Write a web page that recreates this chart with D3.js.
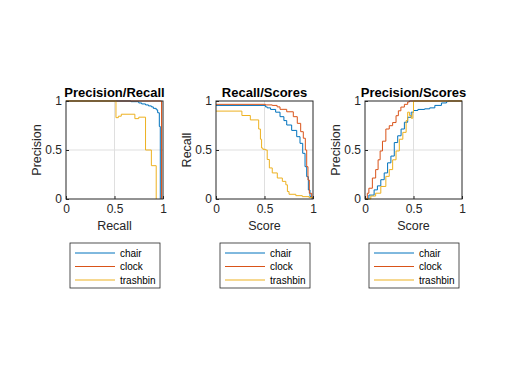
<!DOCTYPE html>
<html lang="en">
<head>
<meta charset="UTF-8">
<title>Precision / Recall</title>
<style>
  body { margin: 0; background: #fff; }
  text { font-family: "Liberation Sans", Arial, sans-serif; fill: #262626; }
</style>
</head>
<body>
<svg id="chart"></svg>
<script src="https://cdn.jsdelivr.net/npm/d3@7/dist/d3.min.js"></script>
<script>
const categories = ['chair', 'clock', 'trashbin'];
const colors = ['#0072BD', '#D95319', '#EDB120'];
const tickValues = [0, 0.5, 1];
const tickLabels = ['0', '0.5', '1'];

// precision / recall
const prChairRecall = [0, 0.67, 0.75, 0.78, 0.82, 0.85, 0.88, 0.9, 0.93, 0.945, 0.962, 0.972];
const prChairPrec   = [1, 0.993, 0.98, 0.97, 0.96, 0.95, 0.94, 0.925, 0.91, 0.88, 0.74, 0];
const prClockRecall = [0, 0.985];
const prClockPrec   = [1, 0];
const prTrashRecall = [0, 0.515, 0.54, 0.57, 0.71, 0.75, 0.82, 0.88, 0.93];
const prTrashPrec   = [1, 0.83, 0.845, 0.865, 0.82, 0.835, 0.5, 0.34, 0];

// recall / scores
const rsChairScore  = [0, 0.51, 0.528, 0.5625, 0.615, 0.66, 0.7, 0.729, 0.78, 0.832, 0.866, 0.894, 0.918, 0.935, 0.952, 0.969, 0.985, 1];
const rsChairRecall = [0.955, 0.94, 0.93, 0.914, 0.886, 0.84, 0.8, 0.755, 0.7, 0.636, 0.568, 0.466, 0.33, 0.228, 0.092, 0.024, 0.008, 0];
const rsClockScore  = [0, 0.51, 0.58, 0.63, 0.66, 0.729, 0.797, 0.838, 0.873, 0.9, 0.921, 0.935, 0.948, 0.962, 0.986, 1];
const rsClockRecall = [0.966, 0.96, 0.955, 0.94, 0.915, 0.89, 0.84, 0.772, 0.687, 0.62, 0.5, 0.33, 0.194, 0.058, 0.01, 0];
const rsTrashScore  = [0, 0.267, 0.354, 0.44, 0.458, 0.47, 0.483, 0.51, 0.528, 0.55, 0.58, 0.632, 0.684, 0.72, 0.736, 0.753, 0.823, 0.89, 0.96, 1];
const rsTrashRecall = [0.897, 0.852, 0.807, 0.714, 0.61, 0.52, 0.507, 0.5, 0.403, 0.317, 0.266, 0.214, 0.18, 0.145, 0.076, 0.048, 0.034, 0.024, 0.014, 0];

// precision / scores
const psChairScore = [0, 0.04, 0.094, 0.128, 0.163, 0.198, 0.233, 0.267, 0.302, 0.337, 0.372, 0.406, 0.44, 0.476, 0.5, 0.545, 0.615, 0.667, 0.72, 0.788, 0.84, 0.858, 1];
const psChairPrec  = [0, 0.04, 0.093, 0.134, 0.197, 0.266, 0.369, 0.438, 0.576, 0.645, 0.714, 0.783, 0.834, 0.886, 0.903, 0.914, 0.92, 0.93, 0.955, 0.98, 0.993, 1, 1];
const psClockScore = [0, 0.024, 0.04, 0.076, 0.11, 0.135, 0.156, 0.18, 0.215, 0.25, 0.285, 0.32, 0.344, 0.37, 0.406, 0.44, 0.458, 1];
const psClockPrec  = [0, 0.059, 0.11, 0.214, 0.3, 0.4, 0.49, 0.59, 0.714, 0.748, 0.78, 0.85, 0.9, 0.938, 0.966, 0.99, 1, 1];
const psTrashScore = [0, 0.06, 0.11, 0.163, 0.215, 0.25, 0.285, 0.32, 0.354, 0.39, 0.424, 0.44, 0.458, 0.476, 0.493, 0.5, 1];
const psTrashPrec  = [0, 0.03, 0.059, 0.128, 0.231, 0.3, 0.4, 0.49, 0.61, 0.68, 0.8, 0.886, 0.852, 0.824, 0.886, 1, 1];

const panels = [
  { left: 66, title: 'Precision/Recall', xlabel: 'Recall', ylabel: 'Precision',
    series: [[prChairRecall, prChairPrec], [prClockRecall, prClockPrec], [prTrashRecall, prTrashPrec]] },
  { left: 216, title: 'Recall/Scores', xlabel: 'Score', ylabel: 'Recall',
    series: [[rsChairScore, rsChairRecall], [rsClockScore, rsClockRecall], [rsTrashScore, rsTrashRecall]] },
  { left: 365, title: 'Precision/Scores', xlabel: 'Score', ylabel: 'Precision',
    series: [[psChairScore, psChairPrec], [psClockScore, psClockPrec], [psTrashScore, psTrashPrec]] }
];

const W = 511, H = 383;
const plotTop = 101, pw = 97, ph = 98;

const svg = d3.select('#chart').attr('width', W).attr('height', H);

panels.forEach(p => {
  const x = d3.scaleLinear().domain([0, 1]).range([p.left, p.left + pw]);
  const y = d3.scaleLinear().domain([0, 1]).range([plotTop + ph, plotTop]);
  const g = svg.append('g');

  // grid
  g.selectAll('.gx').data([0.5]).enter().append('line')
    .attr('x1', d => x(d)).attr('x2', d => x(d)).attr('y1', plotTop).attr('y2', plotTop + ph)
    .attr('stroke', '#dfdfdf').attr('stroke-width', 1);
  g.selectAll('.gy').data([0.5]).enter().append('line')
    .attr('y1', d => y(d)).attr('y2', d => y(d)).attr('x1', p.left).attr('x2', p.left + pw)
    .attr('stroke', '#dfdfdf').attr('stroke-width', 1);

  const line = d3.line().x(d => x(d[0])).y(d => y(d[1])).curve(d3.curveStepAfter);
  p.series.forEach((s, i) => {
    const pts = s[0].map((v, k) => [v, s[1][k]]);
    g.append('path').datum(pts)
      .attr('d', line)
      .attr('fill', 'none')
      .attr('stroke', colors[i])
      .attr('stroke-width', 1);
  });

  // axes
  const xAxis = d3.axisBottom(x).tickValues(tickValues).tickFormat((d, i) => tickLabels[i]).tickSizeInner(-3).tickSizeOuter(0).tickPadding(5);
  const yAxis = d3.axisLeft(y).tickValues(tickValues).tickFormat((d, i) => tickLabels[i]).tickSizeInner(-3).tickSizeOuter(0).tickPadding(4);
  const gx = g.append('g').attr('transform', `translate(0,${plotTop + ph})`).call(xAxis);
  const gy = g.append('g').attr('transform', `translate(${p.left},0)`).call(yAxis);
  [gx, gy].forEach(a => {
    a.select('.domain').remove();
    a.selectAll('line').attr('stroke', '#262626');
    a.selectAll('text').attr('font-size', 12).attr('font-family', '"Liberation Sans", Arial, sans-serif').attr('fill', '#262626');
  });

  g.append('rect')
    .attr('x', p.left).attr('y', plotTop).attr('width', pw).attr('height', ph)
    .attr('fill', 'none').attr('stroke', '#262626').attr('stroke-width', 1);

  g.append('text').attr('x', p.left + pw / 2).attr('y', plotTop - 4)
    .attr('text-anchor', 'middle').attr('font-size', 13).attr('font-weight', 'bold')
    .style('fill', '#000').text(p.title);
  g.append('text').attr('x', p.left + pw / 2).attr('y', plotTop + ph + 31)
    .attr('text-anchor', 'middle').attr('font-size', 12.5).text(p.xlabel);
  g.append('text')
    .attr('transform', `translate(${p.left - 25},${plotTop + ph / 2}) rotate(-90)`)
    .attr('text-anchor', 'middle').attr('font-size', 12.5).text(p.ylabel);

  // legend
  const lx = p.left + 4, ly = 243;
  const lg = g.append('g');
  lg.append('rect').attr('x', lx).attr('y', ly).attr('width', 90).attr('height', 45)
    .attr('fill', '#fff').attr('stroke', '#262626').attr('stroke-width', 0.8);
  categories.forEach((c, i) => {
    const yy = ly + 10 + i * 13.5;
    lg.append('line').attr('x1', lx + 5).attr('x2', lx + 45).attr('y1', yy).attr('y2', yy)
      .attr('stroke', colors[i]).attr('stroke-width', 1);
    lg.append('text').attr('x', lx + 50).attr('y', yy + 3.5)
      .attr('font-size', 10).style('fill', '#000').text(c);
  });
});
</script>
</body>
</html>
